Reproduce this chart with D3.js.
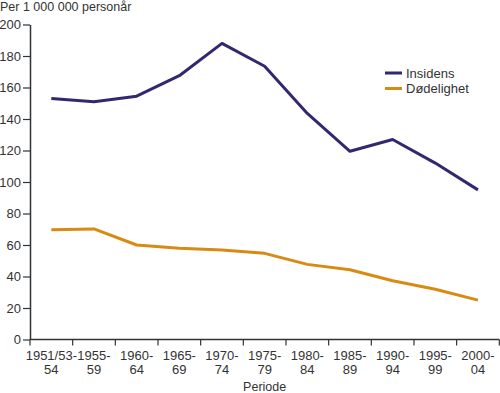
<!DOCTYPE html>
<html>
<head>
<meta charset="utf-8">
<script src="https://cdn.jsdelivr.net/npm/d3@7"></script>
<style>
  body { margin: 0; background: #fff; }
  text { font-family: "Liberation Sans", Arial, sans-serif; fill: #333; }
</style>
</head>
<body>
<div id="chart"></div>
<script>
// perioder (två rader per etikett)
var perioder = [
    ["1951/53-", "54"], ["1955-", "59"], ["1960-", "64"], ["1965-", "69"],
    ["1970-", "74"], ["1975-", "79"], ["1980-", "84"], ["1985-", "89"],
    ["1990-", "94"], ["1995-", "99"], ["2000-", "04"]
];
var insidens = [153, 151, 154.5, 167.5, 188, 173.5, 143.5, 119.5, 127, 112, 95];
var dodelighet = [69.7, 70.2, 60, 58, 56.8, 54.7, 47.7, 44.3, 37.3, 31.9, 25];
var yTicks = [0, 20, 40, 60, 80, 100, 120, 140, 160, 180, 200];

var width = 500, height = 393;
var padding = { top: 24.5, right: 0.7, bottom: 53.5, left: 30 };
var coordWidth = width - padding.left - padding.right;
var coordHeight = height - padding.top - padding.bottom;

var svg = d3.select("#chart").append("svg")
    .attr("width", width)
    .attr("height", height);

var xScale = d3.scaleBand()
    .domain(d3.range(perioder.length))
    .range([0, coordWidth]);

var yScale = d3.scaleLinear()
    .domain([0, 200])
    .range([coordHeight, 0]);

var chart = svg.append("g")
    .attr("transform", "translate(" + padding.left + "," + padding.top + ")");

// y-axel
var yAxis = chart.append("g")
    .attr("class", "axis y-axis")
    .call(d3.axisLeft(yScale).tickValues(yTicks).tickSize(7).tickPadding(2).tickSizeOuter(0));

// x-axel, tick i bandgränserna
var xAxis = chart.append("g")
    .attr("class", "axis x-axis")
    .attr("transform", "translate(0," + coordHeight + ")");

xAxis.append("line")
    .attr("x1", 0).attr("x2", coordWidth)
    .attr("stroke", "#333").attr("stroke-width", 1.5);

xAxis.selectAll(".tick-line")
    .data(d3.range(perioder.length + 1))
    .enter().append("line")
    .attr("class", "tick-line")
    .attr("x1", function(d) { return d === perioder.length ? coordWidth : xScale(d); })
    .attr("x2", function(d) { return d === perioder.length ? coordWidth : xScale(d); })
    .attr("y1", 0).attr("y2", 6)
    .attr("stroke", "#333").attr("stroke-width", 1.2);

var xLabels = xAxis.selectAll(".xlabel")
    .data(perioder)
    .enter().append("text")
    .attr("class", "xlabel")
    .attr("text-anchor", "middle")
    .attr("font-size", 13)
    .attr("transform", function(d, i) { return "translate(" + (xScale(i) + xScale.bandwidth() / 2) + ",0)"; });

xLabels.append("tspan").attr("x", 0).attr("y", 20).text(function(d) { return d[0]; });
xLabels.append("tspan").attr("x", 0).attr("y", 34).text(function(d) { return d[1]; });

yAxis.select(".domain").attr("stroke", "#333").attr("stroke-width", 1.5);
yAxis.selectAll(".tick line").attr("stroke", "#333").attr("stroke-width", 1.2);
yAxis.selectAll(".tick text")
    .attr("font-size", 13)
    .style("fill", "#333")
    .attr("font-family", "'Liberation Sans', Arial, sans-serif");

// linjer
var line = d3.line()
    .x(function(d, i) { return xScale(i) + xScale.bandwidth() / 2; })
    .y(function(d) { return yScale(d); });

chart.append("path")
    .datum(dodelighet)
    .attr("fill", "none")
    .attr("stroke", "#d98a12")
    .attr("stroke-width", 3)
    .attr("stroke-linejoin", "round")
    .attr("d", line);

chart.append("path")
    .datum(insidens)
    .attr("fill", "none")
    .attr("stroke", "#35276f")
    .attr("stroke-width", 3)
    .attr("stroke-linejoin", "round")
    .attr("d", line);

// titel och axeltext
svg.append("text")
    .attr("x", 0).attr("y", 10.5)
    .attr("font-size", 12.5)
    .text("Per 1 000 000 personår");

svg.append("text")
    .attr("x", padding.left + coordWidth / 2)
    .attr("y", 390.5)
    .attr("text-anchor", "middle")
    .attr("font-size", 12.5)
    .text("Periode");

// legend
var legend = [["Insidens", "#35276f"], ["Dødelighet", "#d98a12"]];
var lg = svg.selectAll(".legend")
    .data(legend)
    .enter().append("g")
    .attr("class", "legend")
    .attr("transform", function(d, i) { return "translate(385," + (73 + i * 15.5) + ")"; });

lg.append("line")
    .attr("x1", 0).attr("x2", 17)
    .attr("stroke", function(d) { return d[1]; })
    .attr("stroke-width", 3);

lg.append("text")
    .attr("x", 21).attr("y", 4.5)
    .attr("font-size", 13)
    .text(function(d) { return d[0]; });
</script>
</body>
</html>
